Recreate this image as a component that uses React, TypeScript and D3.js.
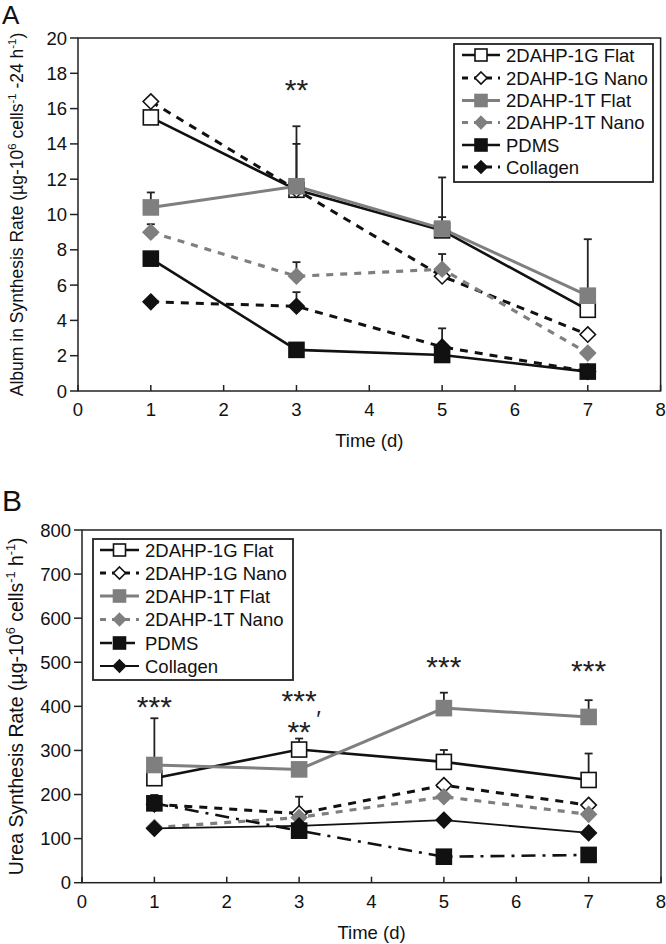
import React from "react";
import * as d3 from "d3";

// ---------- data ----------
const days = [1, 3, 5, 7];
const xTicks = [0, 1, 2, 3, 4, 5, 6, 7, 8];
const yTicksA = [0, 2, 4, 6, 8, 10, 12, 14, 16, 18, 20];
const yTicksB = [0, 100, 200, 300, 400, 500, 600, 700, 800];
const seriesNames = ["2DAHP-1G Flat", "2DAHP-1G Nano", "2DAHP-1T Flat", "2DAHP-1T Nano", "PDMS", "Collagen"];

// Panel A: albumin synthesis
const albumin1GFlat = [15.5, 11.4, 9.1, 4.6];
const albumin1GNano = [16.4, 11.4, 6.5, 3.2];
const albumin1TFlat = [10.4, 11.6, 9.2, 5.4];
const albumin1TNano = [9.0, 6.5, 6.9, 2.15];
const albuminPDMS = [7.5, 2.33, 2.04, 1.1];
const albuminCollagen = [5.05, 4.8, 2.5, 1.1];
const albuminErr1GFlat = [0, 2.6, 0.75, 0];
const albuminErr1GNano = [0, 0, 0, 0];
const albuminErr1TFlat = [0.85, 3.4, 2.9, 3.2];
const albuminErr1TNano = [0.45, 0.8, 0.86, 0];
const albuminErrPDMS = [0, 0, 0, 0];
const albuminErrCollagen = [0, 0.8, 1.05, 0];
const albuminStars = [{ x: 3, y: 17.45, t: "**" }];

// Panel B: urea synthesis
const urea1GFlat = [237, 302, 274, 233];
const urea1GNano = [178, 157, 221, 176];
const urea1TFlat = [267, 257, 396, 376];
const urea1TNano = [125, 148, 195, 155];
const ureaPDMS = [180, 118, 59, 63];
const ureaCollagen = [123, 129, 142, 113];
const ureaErr1GFlat = [0, 25, 27, 60];
const ureaErr1GNano = [0, 38, 0, 0];
const ureaErr1TFlat = [106, 0, 35, 38];
const ureaErr1TNano = [0, 0, 0, 0];
const ureaErrPDMS = [19, 0, 0, 0];
const ureaErrCollagen = [0, 0, 0, 0];
const ureaStars = [
  { x: 1, y: 414, t: "***" },
  { x: 3, y: 427, t: "***" },
  { x: 3, y: 358, t: "**" },
  { x: 5, y: 505, t: "***" },
  { x: 7, y: 496, t: "***" },
];

// ---------- styles ----------
const GRAY = "#7f7f7f";
type Style = { stroke: string; width: number; dash?: string; marker: "sq" | "di"; fill: string; mstroke: string };
const stylesA: Style[] = [
  { stroke: "#111", width: 2.6, marker: "sq", fill: "#fff", mstroke: "#111" },
  { stroke: "#111", width: 3, dash: "8,7", marker: "di", fill: "#fff", mstroke: "#111" },
  { stroke: GRAY, width: 3, marker: "sq", fill: GRAY, mstroke: GRAY },
  { stroke: GRAY, width: 3.2, dash: "7,7", marker: "di", fill: GRAY, mstroke: GRAY },
  { stroke: "#111", width: 2.6, marker: "sq", fill: "#111", mstroke: "#111" },
  { stroke: "#111", width: 3, dash: "8,7", marker: "di", fill: "#111", mstroke: "#111" },
];
const stylesB: Style[] = [
  { stroke: "#111", width: 2.6, marker: "sq", fill: "#fff", mstroke: "#111" },
  { stroke: "#111", width: 3, dash: "8,7", marker: "di", fill: "#fff", mstroke: "#111" },
  { stroke: GRAY, width: 3, marker: "sq", fill: GRAY, mstroke: GRAY },
  { stroke: GRAY, width: 3.2, dash: "7,7", marker: "di", fill: GRAY, mstroke: GRAY },
  { stroke: "#111", width: 2.6, dash: "14,7,3,7", marker: "sq", fill: "#111", mstroke: "#111" },
  { stroke: "#111", width: 1.8, marker: "di", fill: "#111", mstroke: "#111" },
];

const FONT = "'Liberation Sans', Arial, Helvetica, sans-serif";

function Marker({ kind, x, y, s, fill, stroke }: { kind: string; x: number; y: number; s: number; fill: string; stroke: string }) {
  if (kind === "sq") {
    return <rect x={x - s / 2} y={y - s / 2} width={s} height={s} fill={fill} stroke={stroke} strokeWidth={1.6} />;
  }
  const h = s * 0.55;
  return (
    <path d={`M${x},${y - h}L${x + h},${y}L${x},${y + h}L${x - h},${y}Z`} fill={fill} stroke={stroke} strokeWidth={1.6} />
  );
}

type PanelProps = {
  letter: string;
  letterY: number;
  letterSize: number;
  x0: number; x1: number; yTop: number; yBot: number;
  yMax: number;
  yTicks: number[];
  values: number[][];
  errs: number[][];
  styles: Style[];
  stars: { x: number; y: number; t: string }[];
  yTitle: React.ReactNode;
  yTitleSize: number;
  legend: { x0: number; x1: number; y0: number; y1: number; rows: number[]; sx0: number; sx1: number; tx: number };
  extra?: React.ReactNode;
};

function Panel(p: PanelProps) {
  const x = d3.scaleLinear().domain([0, 8]).range([p.x0, p.x1]);
  const y = d3.scaleLinear().domain([0, p.yMax]).range([p.yBot, p.yTop]);
  const line = d3.line<[number, number]>().x((d) => x(d[0])).y((d) => y(d[1]));
  const cy = (p.yTop + p.yBot) / 2;
  return (
    <g fontFamily={FONT}>
      <text x={2} y={p.letterY} fontSize={p.letterSize} fill="#111">{p.letter}</text>
      {/* frame */}
      <rect x={p.x0} y={p.yTop} width={p.x1 - p.x0} height={p.yBot - p.yTop} fill="none" stroke="#222" strokeWidth={1.5} />
      {/* y ticks */}
      {p.yTicks.map((t) => (
        <g key={"y" + t}>
          <line x1={p.x0 - 8} x2={p.x0} y1={y(t)} y2={y(t)} stroke="#222" strokeWidth={1.5} />
          <text x={p.x0 - 11} y={y(t) + 6.5} textAnchor="end" fontSize={18.5} fill="#111">{t}</text>
        </g>
      ))}
      {/* x ticks */}
      {xTicks.map((t) => (
        <g key={"x" + t}>
          <line x1={x(t)} x2={x(t)} y1={p.yBot} y2={p.yBot - 6} stroke="#222" strokeWidth={1.5} />
          <text x={x(t)} y={p.yBot + 25} textAnchor="middle" fontSize={18.5} fill="#111">{t}</text>
        </g>
      ))}
      <text x={(p.x0 + p.x1) / 2} y={p.yBot + 56} textAnchor="middle" fontSize={18.5} fill="#111">Time (d)</text>
      <text transform={`translate(23,${cy}) rotate(-90)`} textAnchor="middle" fontSize={p.yTitleSize} fill="#111">{p.yTitle}</text>
      {/* lines */}
      {p.values.map((vals, i) => (
        <path key={"l" + i} d={line(days.map((d, j) => [d, vals[j]]) as [number, number][]) || ""} fill="none"
          stroke={p.styles[i].stroke} strokeWidth={p.styles[i].width} strokeDasharray={p.styles[i].dash} />
      ))}
      {/* error bars */}
      {p.values.map((vals, i) =>
        days.map((d, j) =>
          p.errs[i][j] > 0 ? (
            <g key={`e${i}-${j}`} stroke="#222" strokeWidth={1.8}>
              <line x1={x(d)} x2={x(d)} y1={y(vals[j])} y2={y(vals[j] + p.errs[i][j])} />
              <line x1={x(d) - 4} x2={x(d) + 4} y1={y(vals[j] + p.errs[i][j])} y2={y(vals[j] + p.errs[i][j])} />
            </g>
          ) : null
        )
      )}
      {/* markers */}
      {p.values.map((vals, i) =>
        days.map((d, j) => (
          <Marker key={`m${i}-${j}`} kind={p.styles[i].marker} x={x(d)} y={y(vals[j])} s={p.styles[i].marker === "sq" ? 15 : 14}
            fill={p.styles[i].fill} stroke={p.styles[i].mstroke} />
        ))
      )}
      {/* stars */}
      {p.stars.map((s, i) => (
        <text key={"s" + i} x={x(s.x)} y={y(s.y) + 17} textAnchor="middle" fontSize={30} fill="#222">{s.t}</text>
      ))}
      {p.extra}
      {/* legend */}
      <rect x={p.legend.x0} y={p.legend.y0} width={p.legend.x1 - p.legend.x0} height={p.legend.y1 - p.legend.y0} fill="#fff" stroke="#222" strokeWidth={1.8} />
      {seriesNames.map((n, i) => {
        const ry = p.legend.rows[i];
        const st = p.styles[i];
        const mx = (p.legend.sx0 + p.legend.sx1) / 2;
        return (
          <g key={"lg" + i}>
            <line x1={p.legend.sx0} x2={p.legend.sx1} y1={ry} y2={ry} stroke={st.stroke} strokeWidth={st.width}
              strokeDasharray={st.dash ? (i === 4 ? "12,4,3,4" : "6,6") : undefined} />
            <Marker kind={st.marker} x={mx} y={ry} s={st.marker === "sq" ? 12 : 11} fill={st.fill} stroke={st.mstroke} />
            <text x={p.legend.tx} y={ry + 6.5} fontSize={18.5} fill="#111">{n}</text>
          </g>
        );
      })}
    </g>
  );
}

const supStyle = { fontSize: "0.65em" };

export default function App() {
  const yTitleA = (
    <>
      <tspan>Album in Synthesis Rate (µg-10</tspan>
      <tspan dy={-7} style={supStyle}>6</tspan>
      <tspan dy={7}> cells</tspan>
      <tspan dy={-7} style={supStyle}>-1</tspan>
      <tspan dy={7}> -24 h</tspan>
      <tspan dy={-7} style={supStyle}>-1</tspan>
      <tspan dy={7}>)</tspan>
    </>
  );
  const yTitleB = (
    <>
      <tspan>Urea Synthesis Rate (µg-10</tspan>
      <tspan dy={-8} style={supStyle}>6</tspan>
      <tspan dy={8}> cells</tspan>
      <tspan dy={-8} style={supStyle}>-1</tspan>
      <tspan dy={8}> h</tspan>
      <tspan dy={-8} style={supStyle}>-1</tspan>
      <tspan dy={8}>)</tspan>
    </>
  );
  const xB = d3.scaleLinear().domain([0, 8]).range([82, 661]);
  const yB = d3.scaleLinear().domain([0, 800]).range([882.7, 530]);
  return (
    <svg width={666} height={944} style={{ position: "absolute", left: 0, top: 0, background: "#fff" }}>
      <rect width={666} height={944} fill="#fff" />
      <Panel
        letter="A" letterY={24} letterSize={26}
        x0={78} x1={660.6} yTop={38} yBot={391} yMax={20}
        yTicks={yTicksA}
        values={[albumin1GFlat, albumin1GNano, albumin1TFlat, albumin1TNano, albuminPDMS, albuminCollagen]}
        errs={[albuminErr1GFlat, albuminErr1GNano, albuminErr1TFlat, albuminErr1TNano, albuminErrPDMS, albuminErrCollagen]}
        styles={stylesA}
        stars={albuminStars}
        yTitle={yTitleA} yTitleSize={17.5}
        legend={{ x0: 454, x1: 653, y0: 44, y1: 182, rows: [55, 78, 100.5, 122.5, 145, 167], sx0: 462, sx1: 500, tx: 506 }}
      />
      <Panel
        letter="B" letterY={511} letterSize={30}
        x0={82} x1={661} yTop={530} yBot={882.7} yMax={800}
        yTicks={yTicksB}
        values={[urea1GFlat, urea1GNano, urea1TFlat, urea1TNano, ureaPDMS, ureaCollagen]}
        errs={[ureaErr1GFlat, ureaErr1GNano, ureaErr1TFlat, ureaErr1TNano, ureaErrPDMS, ureaErrCollagen]}
        styles={stylesB}
        stars={ureaStars}
        yTitle={yTitleB} yTitleSize={19.5}
        legend={{ x0: 93, x1: 293, y0: 539, y1: 680, rows: [550, 573, 596, 619.5, 643, 666], sx0: 100, sx1: 139, tx: 145 }}
        extra={<text x={xB(3) + 17} y={yB(395) + 19} fontSize={24} fill="#222">′</text>}
      />
    </svg>
  );
}
